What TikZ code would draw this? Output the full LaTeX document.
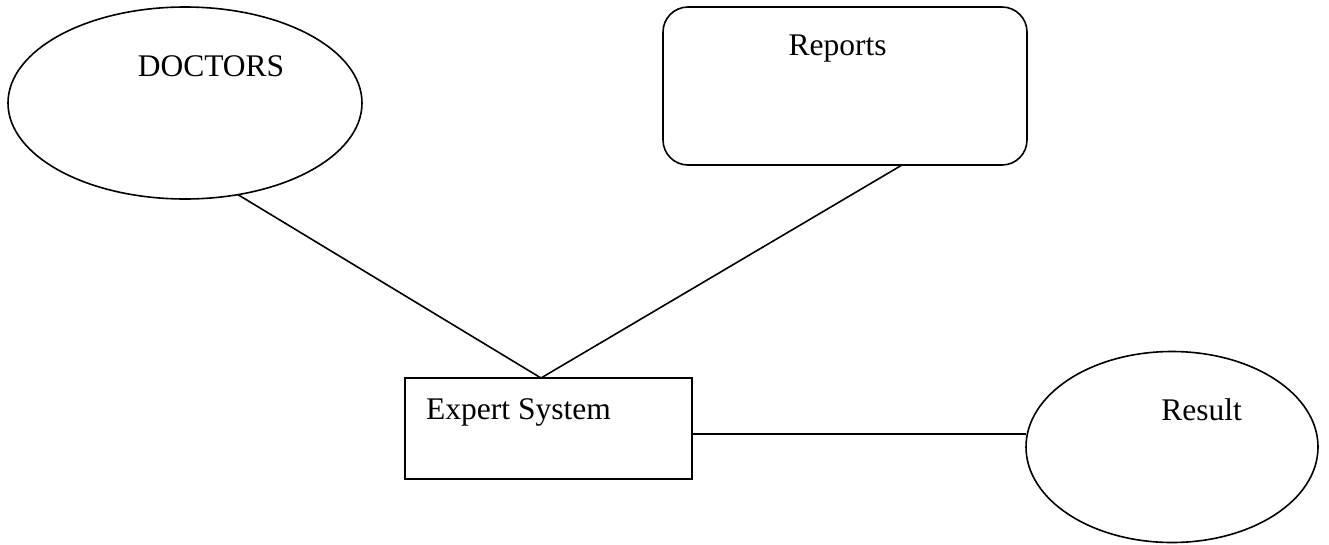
\documentclass[tikz,border=0pt]{standalone}
\usepackage{fontspec}
\setmainfont{Liberation Serif}
\usetikzlibrary{shapes.geometric}
\begin{document}
\begin{tikzpicture}[x=1pt,y=-1pt,
  every node/.style={font=\fontsize{31.5}{38}\selectfont},
  shapebox/.style={draw,line width=1.6pt,inner sep=0pt,outer sep=0pt},
  oval/.style={shapebox,ellipse},
  conn/.style={line width=1.6pt}]
\useasboundingbox (0,0) rectangle (1329,544);
% shapes
\node[oval,minimum width=354pt,minimum height=192pt] (doc) at (185,103) {};
\node[shapebox,rectangle,rounded corners=25pt,minimum width=364pt,minimum height=158pt] (rep) at (845,86) {};
\node[shapebox,rectangle,minimum width=287pt,minimum height=101pt] (es) at (548.5,428.5) {};
\node[oval,minimum width=292pt,minimum height=191pt] (res) at (1172,447) {};
% texts
\node[anchor=base,inner sep=0pt] (doctxt) at (211,76) {DOCTORS};
\node[anchor=base,inner sep=0pt] (reptxt) at (837.5,55) {Reports};
\node[anchor=base west,inner sep=0pt] (estxt) at (426,419) {Expert System};
\node[anchor=base,inner sep=0pt] (restxt) at (1201.5,420) {Result};
% connectors
\coordinate (top) at ([xshift=-7.5pt]es.north);
\coordinate (repfoot) at ([xshift=57pt]rep.south);
\coordinate (esright) at ([yshift=-5.5pt]es.east);
\draw[conn] (doc.-60) -- (top) -- (repfoot);
\draw[conn] (esright) -- (esright -| res.west);
\end{tikzpicture}
\end{document}
